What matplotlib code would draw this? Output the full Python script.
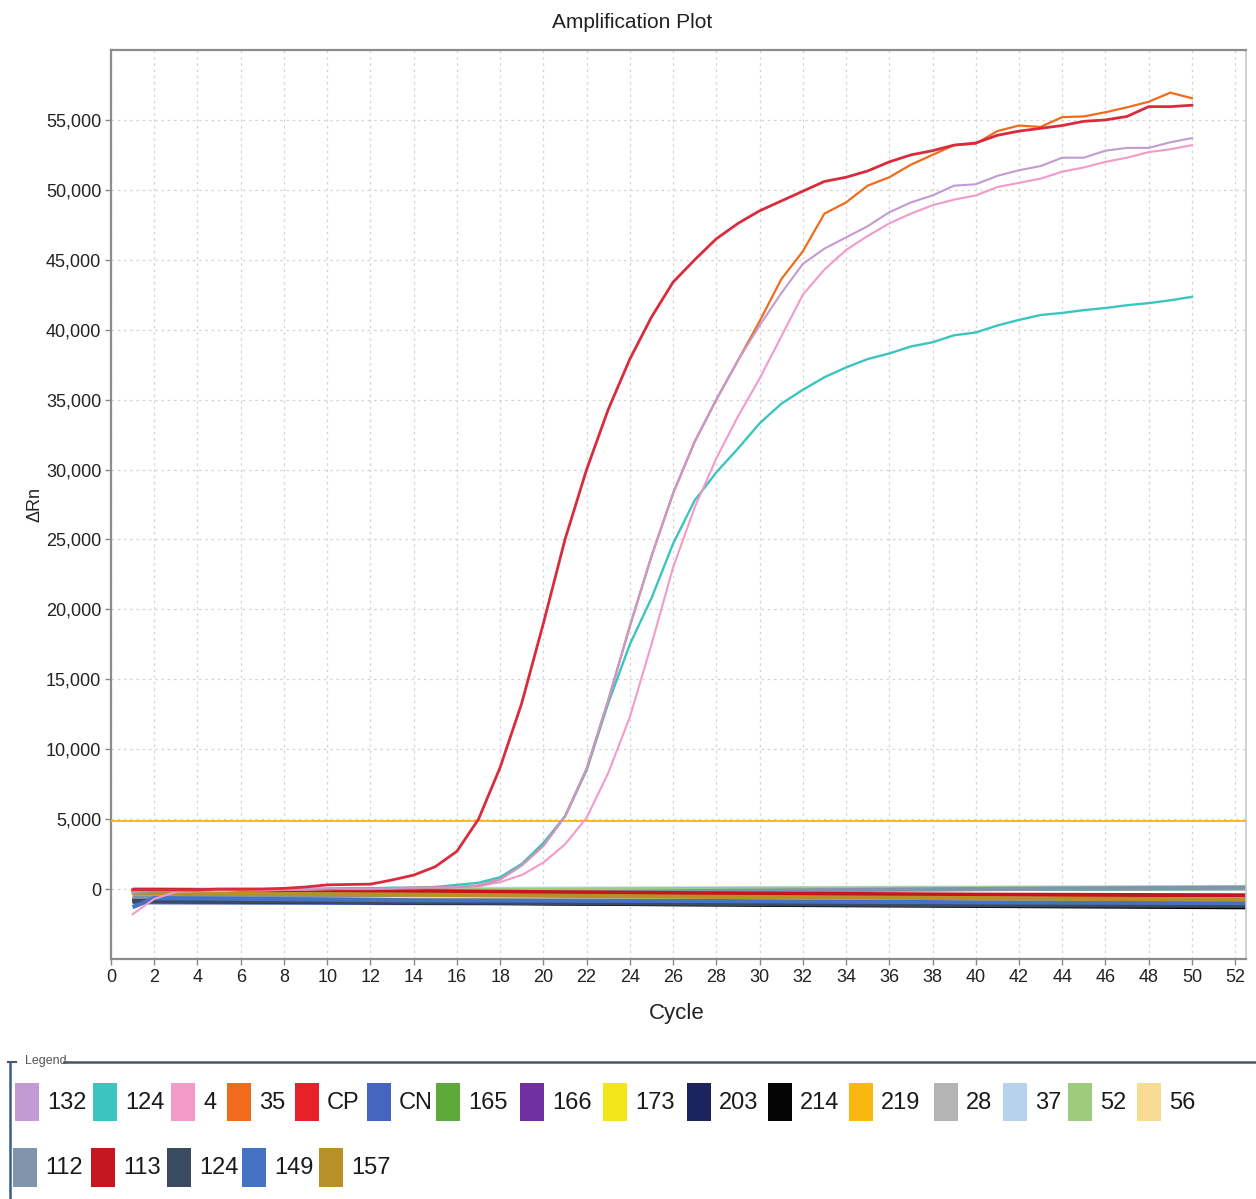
import numpy as np
import matplotlib.pyplot as plt
from matplotlib.patches import Rectangle

plt.rcParams['font.family'] = ['Liberation Sans', 'DejaVu Sans']

# ---- data -------------------------------------------------------------
cycles = np.arange(1, 51)

cp = [-50, -50, -50, -50, 0, 0, 0, 50, 150, 300, 330, 350, 650, 1000, 1600,
      2700, 5000, 8700, 13300, 19000, 25000, 30000, 34300, 37900, 40900,
      43400, 45000, 46500, 47600, 48500, 49200, 49900, 50600, 50900, 51350,
      52000, 52500, 52800, 53200, 53350, 53900, 54200, 54400, 54600, 54900,
      55000, 55250, 55950, 55950, 56050]

s124 = [-300, -150, -100, -100, -50, -50, -50, 0, 0, 0, 50, 50, 100, 100, 150,
        300, 450, 850, 1800, 3300, 5200, 8500, 13300, 17500, 20800, 24700,
        27800, 29800, 31500, 33300, 34700, 35700, 36600, 37300, 37900, 38300,
        38800, 39100, 39600, 39800, 40300, 40700, 41050, 41200, 41400, 41550,
        41750, 41900, 42100, 42350]

s132 = [-200, -100, -100, -50, -50, 0, 0, 0, 0, 50, 50, 50, 50, 100, 100, 150,
        250, 700, 1700, 3100, 5200, 8600, 13500, 18800, 23800, 28300, 32000,
        35000, 37800, 40300, 42600, 44700, 45800, 46600, 47400, 48400, 49100,
        49600, 50300, 50400, 51000, 51400, 51700, 52300, 52300, 52800, 53000,
        53000, 53400, 53700]

s35 = [-150, -150, -100, -100, -50, -50, 0, 0, 0, 0, 50, 50, 50, 100, 100, 150,
       250, 700, 1700, 3100, 5200, 8600, 13500, 18800, 23800, 28300, 32000,
       35000, 37800, 40600, 43600, 45600, 48300, 49100, 50300, 50900, 51800,
       52500, 53200, 53300, 54200, 54600, 54500, 55200, 55250, 55550, 55900,
       56300, 56950, 56550]

s4 = [-1800, -700, -200, -150, -150, -100, -100, -50, -50, 0, 0, 0, 50, 50,
      100, 100, 200, 500, 1000, 1900, 3200, 5100, 8300, 12300, 17500, 23000,
      27300, 30800, 33800, 36500, 39500, 42500, 44300, 45700, 46700, 47600,
      48300, 48900, 49300, 49600, 50200, 50500, 50800, 51300, 51600, 52000,
      52300, 52700, 52900, 53200]

# negative samples: values at a few cycles
neg_cycles = [1, 2, 14, 27, 40, 52.5]
neg_labels = ['CN', '165', '166', '173', '203', '214', '219', '28', '37', '52',
              '56', '112', '113', '124', '149', '157']
neg_values = [
    [-950, -950, -1000, -1050, -1100, -1150],
    [-250, -250, -150, -50, 0, 50],
    [-700, -700, -800, -950, -1050, -1150],
    [-450, -450, -600, -750, -900, -1000],
    [-850, -850, -950, -1050, -1150, -1250],
    [-800, -800, -950, -1100, -1200, -1300],
    [-400, -400, -500, -650, -750, -850],
    [-100, -100, -50, 0, 50, 50],
    [-50, -50, 0, 50, 100, 150],
    [-150, -150, -100, 0, 50, 100],
    [-350, -350, -500, -650, -800, -900],
    [-600, -600, -400, -150, 0, 100],
    [-50, -50, -150, -300, -400, -450],
    [-850, -850, -950, -1050, -1150, -1200],
    [-1300, -650, -800, -850, -950, -1000],
    [-300, -300, -400, -550, -650, -750],
]

threshold = 4850

legend_row1 = ['132', '124', '4', '35', 'CP', 'CN', '165', '166', '173', '203',
               '214', '219', '28', '37', '52', '56']
legend_row2 = ['112', '113', '124', '149', '157']

colors = {
    '132': '#c39bd3', '124': '#3cc4c0', '4': '#f29ac8', '35': '#f06c1c',
    'CP': '#e8202a', 'CN': '#4664c0', '165': '#5fa83a', '166': '#7030a0',
    '173': '#f2e61a', '203': '#1c2460', '214': '#050505', '219': '#f8b810',
    '28': '#b4b4b4', '37': '#b6d2ec', '52': '#9ccc7c', '56': '#f8dc94',
    '112': '#8094ac', '113': '#c4161e', '124b': '#3a4a60', '149': '#4672c4',
    '157': '#b89028',
}
neg_color_keys = ['CN', '165', '166', '173', '203', '214', '219', '28', '37',
                  '52', '56', '112', '113', '124b', '149', '157']

# ---- figure -----------------------------------------------------------
W, H = 1256, 1199
fig = plt.figure(figsize=(W / 100, H / 100), dpi=100)
ax = fig.add_axes([111 / W, 1 - 959 / H, (1246 - 111) / W, (959 - 50) / H])

for vals, key in zip(neg_values, neg_color_keys):
    ax.plot(neg_cycles, vals, color=colors[key], lw=3.0, solid_capstyle='butt',
            zorder=2)

ax.axhline(threshold, color='#f7b500', lw=1.3, zorder=3)

for vals, key, lw in [(s124, '124', 1.7), (s4, '4', 1.5), (s35, '35', 1.6),
                      (s132, '132', 1.5), (cp, 'CP', 2.0)]:
    c = colors[key]
    if key == 'CP':
        c = '#d82c3c'
    ax.plot(cycles, vals, color=c, lw=lw, zorder=4)

ax.set_xlim(0, 52.5)
ax.set_ylim(-5000, 60000)
ax.set_xticks(np.arange(0, 53, 2))
ax.set_yticks(np.arange(0, 55001, 5000))
ax.set_yticklabels([f'{v:,}' for v in range(0, 55001, 5000)])
ax.tick_params(labelsize=13, color='#888888', length=4, width=1,
               labelcolor='#222222', pad=3)
ax.grid(True, color='#d4d4d4', ls=(0, (2, 3)), lw=0.9, zorder=0)
for side in ['left', 'bottom', 'top']:
    ax.spines[side].set_color('#8c8c8c')
    ax.spines[side].set_linewidth(1.6)
ax.spines['right'].set_color('#c8c8c8')
ax.spines['right'].set_linewidth(1.2)

fig.text(632 / W, 1 - 22 / H, 'Amplification Plot', ha='center', va='center',
         fontsize=15, color='#222222')
fig.text(35 / W, 1 - 505 / H, 'ΔRn', ha='center', va='center', rotation=90,
         fontsize=13, color='#222222')
fig.text(677 / W, 1 - 1013 / H, 'Cycle', ha='center', va='center',
         fontsize=16, color='#222222')

# ---- legend panel (pixel coordinates) ---------------------------------
lax = fig.add_axes([0, 0, 1, 1], zorder=-1)
lax.set_xlim(0, W)
lax.set_ylim(H, 0)
lax.axis('off')

frame_c = '#46566a'
lax.plot([8, 16], [1062, 1062], color=frame_c, lw=1.5)
lax.plot([64, W], [1062, 1062], color=frame_c, lw=1.8)
lax.plot([10, 10], [1062, H], color='#3a5c8c', lw=1.8)
lax.text(25, 1061, 'Legend', fontsize=9, color='#555555', va='center')

row1_x = [15, 93, 171, 227, 295, 367, 436, 520, 603, 687, 768, 849, 934,
          1003, 1068, 1137]
row2_x = [13, 91, 167, 242, 319]

for lab, x in zip(legend_row1, row1_x):
    lax.add_patch(Rectangle((x, 1083), 24, 38, color=colors[lab], lw=0))
    lax.text(x + 32, 1103, lab, fontsize=17, va='center', ha='left',
             color='#1a1a1a')
for lab, x in zip(legend_row2, row2_x):
    key = '124b' if lab == '124' else lab
    lax.add_patch(Rectangle((x, 1148), 24, 39, color=colors[key], lw=0))
    lax.text(x + 32, 1168, lab, fontsize=17, va='center', ha='left',
             color='#1a1a1a')

fig.savefig('out.png', dpi=100)
